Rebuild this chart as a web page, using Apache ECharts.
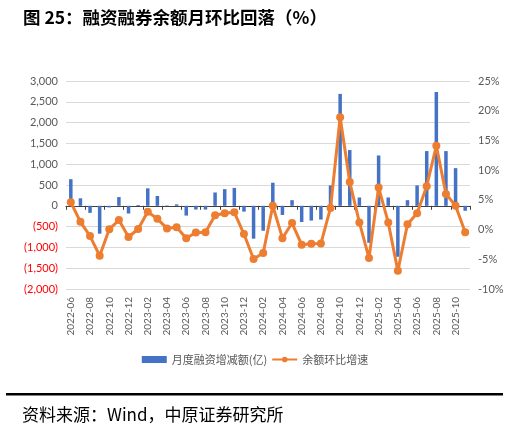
<!DOCTYPE html>
<html>
<head>
<meta charset="utf-8">
<style>
  html, body { margin: 0; padding: 0; background: #fff; }
  #chart { width: 510px; height: 427px; }
</style>
<script src="https://cdn.jsdelivr.net/npm/echarts@6/dist/echarts.min.js"></script>
</head>
<body>
<div id="chart"></div>
<script>
// Margin financing: monthly change (bars, 亿) + balance MoM growth (line, %)
const months = [
  '2022-06', '2022-07', '2022-08', '2022-09', '2022-10', '2022-11', '2022-12',
  '2023-01', '2023-02', '2023-03', '2023-04', '2023-05', '2023-06', '2023-07',
  '2023-08', '2023-09', '2023-10', '2023-11', '2023-12', '2024-01', '2024-02',
  '2024-03', '2024-04', '2024-05', '2024-06', '2024-07', '2024-08', '2024-09',
  '2024-10', '2024-11', '2024-12', '2025-01', '2025-02', '2025-03', '2025-04',
  '2025-05', '2025-06', '2025-07', '2025-08', '2025-09', '2025-10', '2025-11',
];

const monthlyChange = [
  640, 180, -170, -670, -40, 210, -185, 20, 420, 235, 10, 35, -235, -90,
  -90, 320, 400, 430, -140, -790, -600, 555, -220, 135, -390, -355, -330, 490,
  2690, 1340, 200, -890, 1210, 200, -1225, 135, 490, 1315, 2735, 1315, 905, -120,
];

const momGrowth = [
  4.6, 1.3, -1.1, -4.4, 0.05, 1.6, -1.25, 0.1, 3.0, 1.8, 0.2, 0.4, -1.45, -0.5,
  -0.45, 2.4, 2.75, 2.9, -0.75, -4.95, -3.95, 4.0, -1.45, 1.1, -2.55, -2.4, -2.35, 3.65,
  18.9, 8.0, 1.2, -4.8, 7.1, 1.2, -6.95, 0.9, 2.75, 7.3, 14.1, 6.0, 4.0, -0.45,
];

const TITLE = '图 25：融资融券余额月环比回落（%）';
const SOURCE = '资料来源：Wind，中原证券研究所';
const BAR_NAME = '月度融资增减额(亿)';
const LINE_NAME = '余额环比增速';

const LABEL_FONT = 'Lato, "Noto Sans", sans-serif';
const CJK_FONT = '"Noto Sans CJK SC", sans-serif';

function fmtThousands(v) {
  const s = Math.abs(v).toLocaleString('en-US');
  return v < 0 ? '(' + s + ')' : s;
}

const chart = echarts.init(document.getElementById('chart'), null, { renderer: 'canvas' });

chart.setOption({
  backgroundColor: '#fff',
  animation: false,
  title: [
    {
      text: TITLE,
      left: 18,
      top: 4,
      textStyle: { fontFamily: CJK_FONT, fontSize: 17.5, fontWeight: 'bold', color: '#000' },
    },
    {
      text: SOURCE,
      left: 17,
      top: 401,
      textStyle: { fontFamily: CJK_FONT, fontSize: 17, fontWeight: 'normal', color: '#000' },
    },
  ],
  graphic: [
    { type: 'rect', shape: { x: 6, y: 393, width: 497, height: 2.5 }, style: { fill: '#000' } },
  ],
  legend: {
    top: 349,
    left: 'center',
    itemGap: 4,
    itemWidth: 25,
    itemHeight: 7,
    textStyle: { fontFamily: CJK_FONT, fontSize: 11, color: '#595959' },
    data: [
      { name: BAR_NAME, icon: 'rect' },
      { name: LINE_NAME },
    ],
  },
  grid: { left: 66, right: 40, top: 81, bottom: 138 },
  xAxis: [
    {
      type: 'category',
      data: months,
      position: 'bottom',
      axisLine: { show: false, onZero: false },
      axisTick: { show: false },
      axisLabel: {
        interval: 1,
        rotate: 90,
        margin: 8,
        fontSize: 10,
        fontFamily: LABEL_FONT,
        color: '#595959',
      },
    },
    {
      type: 'category',
      data: months,
      position: 'bottom',
      axisLine: { show: true, onZero: true, onZeroAxisIndex: 0, lineStyle: { color: '#404040', width: 1 } },
      axisTick: { show: true, interval: 1, length: 4, lineStyle: { color: '#404040' } },
      axisLabel: { show: false },
      splitLine: { show: false },
    },
  ],
  yAxis: [
    {
      type: 'value',
      min: -2000,
      max: 3000,
      interval: 500,
      axisLine: { show: false },
      axisTick: { show: false },
      axisLabel: {
        fontSize: 11,
        fontFamily: LABEL_FONT,
        margin: 8,
        formatter: fmtThousands,
        color: (v) => (Number(v) < 0 ? '#FF0000' : '#595959'),
      },
      splitLine: { lineStyle: { color: '#D9D9D9', width: 1 } },
    },
    {
      type: 'value',
      min: -10,
      max: 25,
      interval: 5,
      position: 'right',
      axisLine: { show: false },
      axisTick: { show: false },
      axisLabel: {
        fontSize: 11,
        fontFamily: LABEL_FONT,
        margin: 8,
        color: '#595959',
        formatter: (v) => v + '%',
      },
      splitLine: { show: false },
    },
  ],
  series: [
    {
      name: BAR_NAME,
      type: 'bar',
      xAxisIndex: 0,
      yAxisIndex: 0,
      barWidth: 3.5,
      itemStyle: { color: '#4472C4' },
      data: monthlyChange,
    },
    {
      name: LINE_NAME,
      type: 'line',
      xAxisIndex: 0,
      yAxisIndex: 1,
      symbol: 'circle',
      symbolSize: 8,
      showAllSymbol: true,
      z: 5,
      lineStyle: { color: '#ED7D31', width: 3 },
      itemStyle: { color: '#ED7D31' },
      data: momGrowth,
    },
  ],
});
</script>
</body>
</html>
